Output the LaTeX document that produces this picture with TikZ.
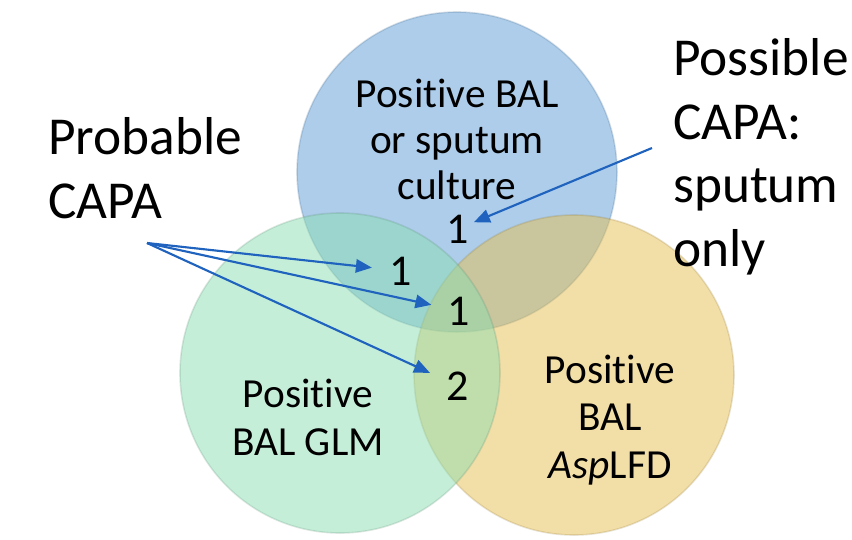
\documentclass[tikz,border=0pt]{standalone}
\usepackage{fontspec}
\setmainfont{Carlito}[Ligatures=NoCommon]
\usetikzlibrary{arrows.meta}

\definecolor{setblue}{RGB}{91,155,213}
\definecolor{setyellow}{RGB}{230,190,80}
\definecolor{setgreen}{RGB}{140,222,178}
\definecolor{pointer}{RGB}{31,99,190}

\begin{document}
\begin{tikzpicture}[x={(0.75pt,0)},y={(0,-0.75pt)},>={Triangle[length=12pt,width=10pt]},
  setcircle/.style={fill opacity=0.5,draw opacity=0.2,line width=1.2pt},
  setlabel/.style={font=\fontsize{31}{34.5}\selectfont,align=center,anchor=base,inner sep=0pt},
  count/.style={font=\fontsize{33}{36}\selectfont,anchor=base},
  bigtext/.style={font=\fontsize{40}{48}\selectfont,align=left,anchor=base west,inner sep=0pt},
  pointline/.style={->,draw=pointer,fill=pointer,line width=1.6pt}]
\useasboundingbox (0,0) rectangle (852,539);

% the three sets
\filldraw[setcircle,fill=setblue,draw=setblue!60!black] (457,172) circle[radius=160];
\filldraw[setcircle,fill=setyellow,draw=setyellow!60!black] (574,375) circle[radius=160];
\filldraw[setcircle,fill=setgreen,draw=setgreen!60!black] (340,373) circle[radius=160];

% labels sit on the baseline of their last line
\node[setlabel] (cult) at (457,199) {Positive BAL\\or sputum\\culture};
\node[setlabel,font=\fontsize{31}{36}\selectfont] (glm) at (308,455) {Positive\\BAL GLM};
\node[setlabel,font=\fontsize{31}{35.5}\selectfont] (lfd) at (610,478) {Positive\\BAL\\\textit{Asp}LFD};

% counts in the overlaps
\node[count] (nC) at (458,243) {1};
\node[count] (nCG) at (401,285) {1};
\node[count] (nAll) at (459,325) {1};
\node[count] (nGL) at (458,400) {2};

\node[bigtext] (probable) at (48,218) {Probable\\CAPA};
\node[bigtext,font=\fontsize{40}{47.6}\selectfont] (possible) at (673,266) {Possible\\CAPA:\\sputum\\only};
\coordinate (probtail) at (147,243);
\coordinate (posstail) at (652,148);

\draw[pointline,shorten >=10pt] (probtail) -- (nCG);
\draw[pointline,shorten >=9pt] (probtail) -- (nAll);
\draw[pointline,shorten >=10pt] (probtail) -- (nGL);
\draw[pointline] (posstail) -- (nC);
\end{tikzpicture}
\end{document}
